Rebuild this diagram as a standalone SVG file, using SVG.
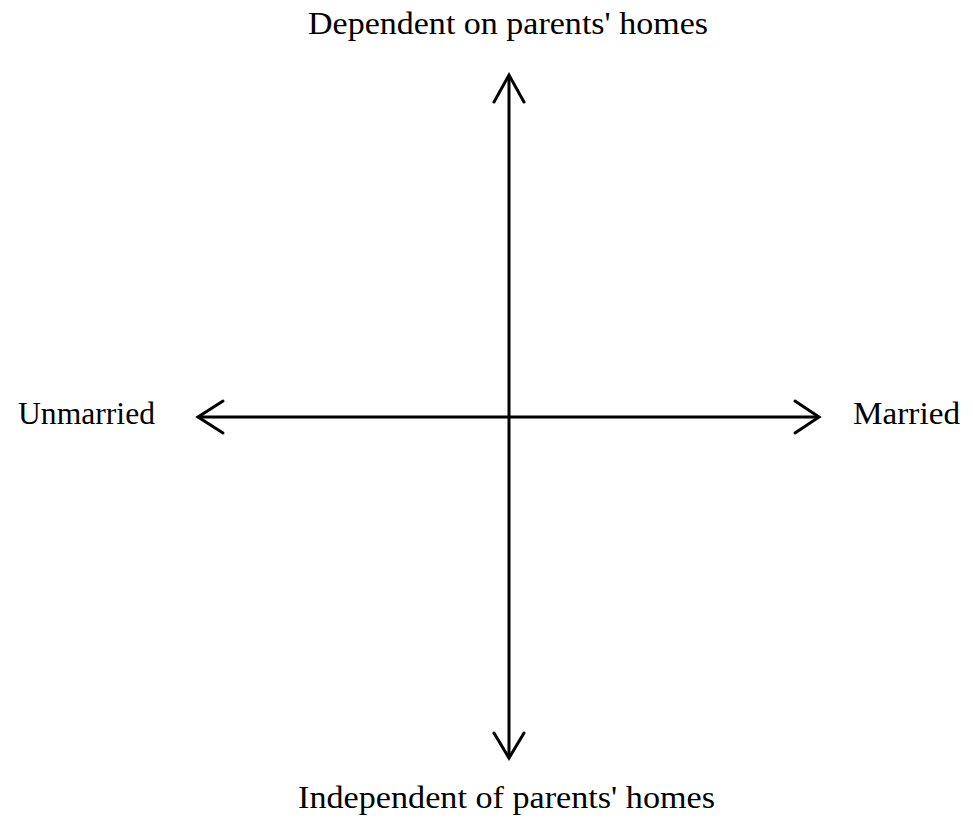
<svg xmlns="http://www.w3.org/2000/svg" width="973" height="821" viewBox="0 0 973 821">
<style>
.lbl{font-family:"Liberation Serif","Times New Roman",Times,serif;font-size:32px;fill:#000}
.ax{stroke:#000;stroke-width:3;fill:none}
.hd{stroke:#000;stroke-width:3;fill:none;stroke-linecap:round;stroke-linejoin:miter}
</style>
<rect width="973" height="821" fill="#fff"/>
<g id="connectors">
<line class="ax" x1="509" y1="76" x2="509" y2="757"/>
<line class="ax" x1="199" y1="417" x2="818" y2="417"/>
<polyline class="hd" points="494,102 509,75 524,102"/>
<polyline class="hd" points="494,733 509,758 524,733"/>
<polyline class="hd" points="223,433 198,417 223,401"/>
<polyline class="hd" points="795,433 819,417 795,401"/>
</g>
<g id="top"><text class="lbl" x="308" y="34" textLength="400" lengthAdjust="spacingAndGlyphs">Dependent on parents' homes</text></g>
<g id="bottom"><text class="lbl" x="298" y="808" textLength="417" lengthAdjust="spacingAndGlyphs">Independent of parents' homes</text></g>
<g id="left"><text class="lbl" x="18" y="424" textLength="137" lengthAdjust="spacingAndGlyphs">Unmarried</text></g>
<g id="right"><text class="lbl" x="853" y="424" textLength="107" lengthAdjust="spacingAndGlyphs">Married</text></g>
</svg>
